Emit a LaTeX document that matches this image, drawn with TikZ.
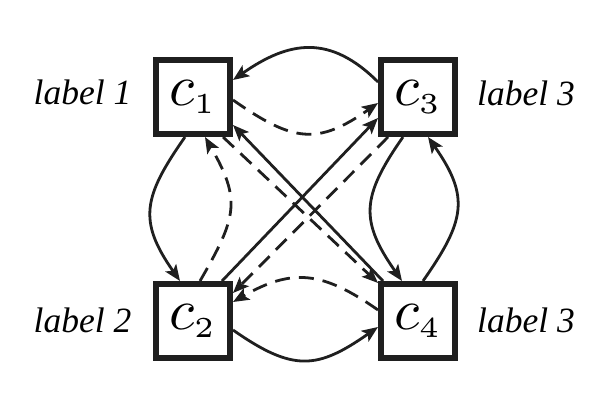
\documentclass[tikz,border=0pt]{standalone}
\usepackage{fontspec}
\setmainfont{Liberation Serif}
\usetikzlibrary{arrows.meta}
\newcommand{\cvar}[1]{\scalebox{5.8}{$c_{\scriptscriptstyle #1}$}}
\begin{document}
\begin{tikzpicture}[x=1pt,y=1pt,
  box/.style={draw=black!88, line width=6pt, minimum size=74pt, inner sep=0pt, fill=white},
  lab/.style={font=\fontsize{35.5}{36}\selectfont\itshape, anchor=base, inner sep=0pt},
  con/.style={line width=2.8pt, draw=black!88, -{Stealth[length=16pt,width=13pt,inset=3.5pt]}},
  dsh/.style={con, dash pattern=on 15pt off 9pt}]
\useasboundingbox (0,0) rectangle (599,412);
\node[box] (c1) at (193,315) {\cvar{1}};
\node[box] (c3) at (418,315) {\cvar{3}};
\node[box] (c2) at (193,91) {\cvar{2}};
\node[box] (c4) at (418,91) {\cvar{4}};
\node[lab] (l1) at (82.5,307) {label 1};
\node[lab] (l3a) at (526,306) {label 3};
\node[lab] (l2) at (82.5,79) {label 2};
\node[lab] (l3b) at (526,79) {label 3};
\draw[con] ([yshift=15pt]c3.west) to[out=135,in=35,looseness=1.2] ([yshift=17pt]c1.east);
\draw[dsh] ([yshift=-3pt]c1.east) to[out=-35,in=-145,looseness=1.3] ([yshift=-6pt]c3.west);
\draw[con] ([xshift=-8pt]c1.south) to[out=-125,in=125,looseness=1.3] ([xshift=-13pt]c2.north);
\draw[dsh] ([xshift=7pt]c2.north) to[out=60,in=-60,looseness=1.3] ([xshift=12pt]c1.south);
\draw[con] ([xshift=-15pt]c3.south) to[out=-125,in=125,looseness=1.3] ([xshift=-16pt]c4.north);
\draw[con] ([xshift=5pt]c4.north) to[out=55,in=-55,looseness=1.3] ([xshift=10pt]c3.south);
\draw[dsh] ([yshift=11pt]c4.west) to[out=145,in=30,looseness=1.2] ([yshift=19pt]c2.east);
\draw[con] ([yshift=-9pt]c2.east) to[out=-35,in=-145,looseness=1.3] ([yshift=-6pt]c4.west);
\draw[con] ([xshift=-35pt]c4.north) -- ([yshift=-28pt]c1.east);
\draw[dsh] ([xshift=30pt]c1.south) -- ([yshift=38pt]c4.west);
\draw[con] ([xshift=29pt]c2.north) -- ([yshift=-21pt]c3.west);
\draw[dsh] ([xshift=-30pt]c3.south) -- ([yshift=28pt]c2.east);
\end{tikzpicture}
\end{document}
